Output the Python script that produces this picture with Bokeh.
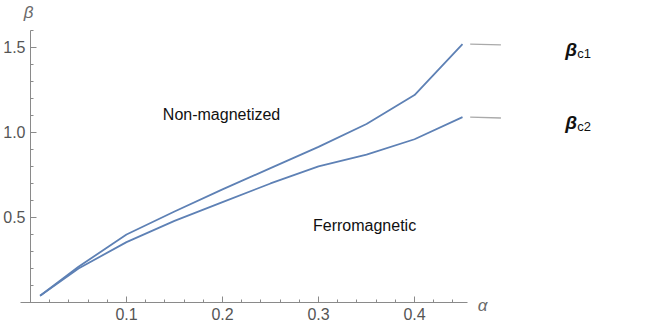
from bokeh.plotting import figure
from bokeh.models import FixedTicker, Range1d
from bokeh.core.properties import value
from bokeh.embed import file_html
from bokeh.resources import INLINE

# ---- data ----
alpha = [0.01, 0.05, 0.10, 0.15, 0.20, 0.25, 0.30, 0.35, 0.40, 0.45]
beta_c1 = [0.04, 0.21, 0.40, 0.535, 0.665, 0.79, 0.915, 1.05, 1.22, 1.52]
beta_c2 = [0.04, 0.20, 0.355, 0.48, 0.59, 0.70, 0.80, 0.87, 0.96, 1.09]
x_major = [0.1, 0.2, 0.3, 0.4]
y_major = [0.5, 1.0, 1.5]
x_labels = {0.1: "0.1", 0.2: "0.2", 0.3: "0.3", 0.4: "0.4"}
y_labels = {0.5: "0.5", 1.0: "1.0", 1.5: "1.5"}
region_labels = ["Non-magnetized", "Ferromagnetic"]
curve_names = ["c1", "c2"]

FONT = "Liberation Sans"
LINE = "#5E81B5"
AX = "#8a8a8a"
TXT = "#555555"

p = figure(width=664, height=327, output_backend="svg", toolbar_location=None,
           x_range=Range1d(-0.03125, 0.6604), y_range=Range1d(-0.147, 1.776),
           min_border_left=0, min_border_right=0, min_border_top=0, min_border_bottom=0)
p.outline_line_color = None
p.xgrid.visible = False
p.ygrid.visible = False

x_minor = [round(0.02 * i, 2) for i in range(1, 23)]
y_minor = [round(0.1 * i, 1) for i in range(1, 17)]
p.xaxis.ticker = FixedTicker(ticks=x_major, minor_ticks=x_minor)
p.yaxis.ticker = FixedTicker(ticks=y_major, minor_ticks=y_minor)
p.xaxis.major_label_overrides = x_labels
p.yaxis.major_label_overrides = y_labels
p.xaxis.fixed_location = 0
p.yaxis.fixed_location = 0
p.xaxis.bounds = (-0.01, 0.455)
p.yaxis.bounds = (0, 1.6)
for ax in (p.xaxis, p.yaxis):
    ax.axis_line_color = AX
    ax.major_tick_line_color = AX
    ax.minor_tick_line_color = AX
    ax.major_tick_in = 6
    ax.major_tick_out = 0
    ax.minor_tick_in = 3
    ax.minor_tick_out = 0
    ax.major_label_text_font = FONT
    ax.major_label_text_font_size = "16px"
    ax.major_label_text_color = TXT
    ax.major_label_standoff = 5

p.line(alpha, beta_c1, line_color=LINE, line_width=1.8)
p.line(alpha, beta_c2, line_color=LINE, line_width=1.8)

# small gray leader segments at curve ends
p.segment(x0=[0.458, 0.458], y0=[beta_c1[-1], beta_c2[-1]],
          x1=[0.49, 0.49], y1=[beta_c1[-1] - 0.005, beta_c2[-1] - 0.005],
          line_color="#aaaaaa", line_width=1.3)

# region labels
p.text(x=[0.199, 0.348], y=[1.104, 0.451], text=region_labels,
       text_font=value(FONT), text_font_size="16px", text_color="#111111",
       text_align="center", text_baseline="middle")

# beta_c labels
p.text(x=[0.557, 0.557], y=[1.49, 1.06], text=["β", "β"],
       text_font=value(FONT), text_font_style="bold italic", text_font_size="19px",
       text_color="#111111", text_align="left", text_baseline="middle")
p.text(x=[0.557, 0.557], y=[1.49, 1.06], text=curve_names, x_offset=12, y_offset=4,
       text_font=value(FONT), text_font_size="13px",
       text_color="#111111", text_align="left", text_baseline="middle")

# axis labels (β above the vertical axis, α at the end of the horizontal axis)
p.text(x=[0.0], y=[1.6], text=["β"], x_offset=-2, y_offset=-18,
       text_font=value(FONT), text_font_style="italic", text_font_size="17px",
       text_color="#6a6a6a", text_align="center", text_baseline="middle")
p.text(x=[0.471], y=[0.0], text=["α"], y_offset=3,
       text_font=value(FONT), text_font_style="italic", text_font_size="17px",
       text_color="#6a6a6a", text_align="center", text_baseline="middle")

open("out.html", "w").write(file_html(p, INLINE))
